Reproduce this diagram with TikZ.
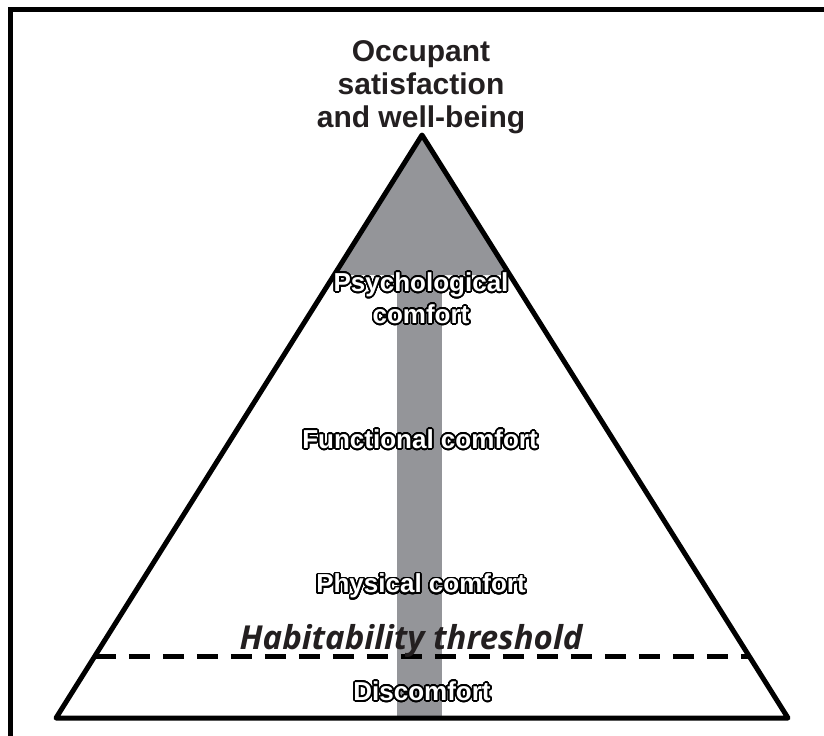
\documentclass[tikz,border=0pt]{standalone}
\usepackage{fontspec}
\usepackage{xcolor}
\usepackage{contour}
\setmainfont{Liberation Sans}
\newfontfamily\threshfont{Open Sans}
\usetikzlibrary{calc}
\definecolor{pyrgray}{RGB}{148, 149, 153}
\definecolor{inkdark}{RGB}{35, 31, 32}
\contourlength{0.8pt}
\contournumber{32}
\newcommand{\outlined}[1]{\contour{black}{#1}}

\begin{document}
\begin{tikzpicture}[x=0.5pt, y=-0.5pt,
    comfortlabel/.style={text=white, font=\fontsize{13}{16}\selectfont\bfseries, align=center, inner sep=0pt},
    toplabel/.style={text=inkdark, font=\fontsize{15}{16.5}\selectfont\bfseries, align=center, inner sep=0pt}]
    % Page and frame
    \useasboundingbox (0,0) rectangle (824,735);
    \clip (0,0) rectangle (824,735);
    \draw[line width=2.5pt] (10,9.5) rectangle (900,900);

    % Pyramid corners
    \coordinate (apex) at (422,135);
    \coordinate (bl) at (56,718);
    \coordinate (br) at (788,718);

    % Fractions along the sides
    \pgfmathsetmacro{\toppart}{(275-135)/(718-135)}
    \pgfmathsetmacro{\threshpart}{(656-135)/(718-135)}
    \coordinate (gl) at ($(apex)!\toppart!(bl)$);
    \coordinate (gr) at ($(apex)!\toppart!(br)$);
    \coordinate (tl) at ($(apex)!\threshpart!(bl)$);
    \coordinate (tr) at ($(apex)!\threshpart!(br)$);

    % Gray tip and gray bar
    \fill[pyrgray] (apex) -- (gl) -- (gr) -- cycle;
    \fill[pyrgray] (397,275) rectangle (442,718);

    % Pyramid outline
    \draw[line width=2.5pt, line join=round] (apex) -- (bl) -- (br) -- cycle;

    % Habitability threshold
    \draw[line width=2.5pt, dash pattern=on 10.5pt off 6.5pt] (tl) -- (tr);

    % Labels
    \node[toplabel] (goal) at (421,87) {Occupant\\satisfaction\\and well-being};
    \node[comfortlabel] (psych) at (421,299) {\outlined{Psychological}\\\outlined{comfort}};
    \node[comfortlabel] (func) at (420,440) {\outlined{Functional comfort}};
    \node[comfortlabel] (phys) at (421,587) {\outlined{Physical comfort}};
    \node[text=inkdark, font=\threshfont\fontsize{16.5}{18}\selectfont\bfseries\itshape, inner sep=0pt, anchor=base] (thresh) at (411,649) {Habitability threshold};
    \node[comfortlabel] (disc) at (422,692) {\outlined{Discomfort}};
\end{tikzpicture}
\end{document}
